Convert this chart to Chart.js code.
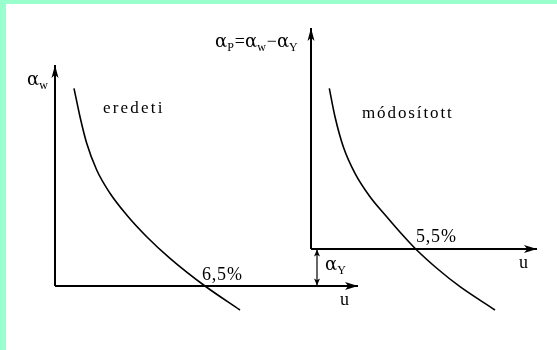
<!DOCTYPE html>
<html>
<head>
<meta charset="utf-8">
<script src="https://cdn.jsdelivr.net/npm/chart.js@4.4.0/dist/chart.umd.min.js"></script>
<style>
  html, body { margin: 0; padding: 0; background: #fff; }
  #wrap { position: absolute; left: 0; top: 0; width: 551px; height: 346px;
          border-left: 6px solid #99ffcc; border-top: 4px solid #99ffcc; background: #fff; }
</style>
</head>
<body>
<div id="wrap"><canvas id="c" width="551" height="346"></canvas></div>
<script>
// diagram units: left origin at (0,0), one unit = 10px
const X_RANGE = [-4.9, 50.2];
const Y_RANGE = [-6.4, 28.2];

// "eredeti" curve (original), crosses u axis at 6,5%
const leftCurve = [[1.9, 19.77], [2.5, 16.93], [3.17, 14.27], [4.17, 11.6], [5.5, 9.27], [7.17, 7.1],
                   [9.17, 4.93], [11.5, 2.77], [15.0, 0], [18.5, -2.4]];
// "módosított" curve (modified), crosses shifted u axis at 5,5%
const rightCurve = [[27.43, 19.77], [28.0, 16.93], [28.83, 13.93], [30.0, 11.27], [31.5, 8.93], [33.17, 6.93],
                    [34.67, 5.2], [36.17, 3.6], [38.33, 1.65], [40.5, -0.07], [44.0, -2.4]];

const leftYAxis = [[0, 0], [0, 22.1]];
const leftXAxis = [[0, 0], [30.3, 0]];
const rightYAxis = [[25.6, 3.7], [25.6, 25.8]];
const rightXAxis = [[25.6, 3.7], [48.2, 3.7]];
const shiftArrow = [[26.2, 0.05], [26.2, 3.65]];

// text: [x, y, segments, fontSize, letterSpacing]  segment: [text, isSubscript]
const labels = [
  [-2.8, 20.1, [['α'], ['w', 1]], 18, 0],
  [4.8, 17.3, [['eredeti']], 17, 2.2],
  [16.0, 23.9, [['α'], ['P', 1], ['='], ['α'], ['w', 1], ['−'], ['α'], ['Y', 1]], 18, 0],
  [30.7, 16.8, [['módosított']], 17, 1.9],
  [14.7, 0.6, [['6,5%']], 18, 0.8],
  [36.1, 4.4, [['5,5%']], 18, 0.8],
  [28.5, -1.9, [['u']], 18, 0],
  [46.4, 1.8, [['u']], 18, 0],
  [27.0, 1.6, [['α'], ['Y', 1]], 18, 0],
];

const pts = (arr) => arr.map(([x, y]) => ({ x, y }));
const line = (arr, width, arrow, size) => ({
  data: pts(arr), borderColor: '#000', borderWidth: width, pointRadius: 0,
  showLine: true, fill: false, tension: 0, arrow, arrowSize: size
});
const curve = (arr) => ({ ...line(arr, 1.6), cubicInterpolationMode: 'monotone' });

const arrowPlugin = {
  id: 'arrowsAndText',
  afterDatasetsDraw(chart) {
    const { ctx } = chart;
    const sx = chart.scales.x, sy = chart.scales.y;
    ctx.save();
    ctx.fillStyle = '#000';
    const head = (tip, from, [L, W]) => {
      const dx = tip.x - from.x, dy = tip.y - from.y, d = Math.hypot(dx, dy);
      const ux = dx / d, uy = dy / d, nx = -uy, ny = ux;
      const bx = tip.x - ux * L, by = tip.y - uy * L;
      ctx.beginPath();
      ctx.moveTo(tip.x, tip.y);
      ctx.lineTo(bx + nx * W, by + ny * W);
      ctx.lineTo(tip.x - ux * L * 0.75, tip.y - uy * L * 0.75);
      ctx.lineTo(bx - nx * W, by - ny * W);
      ctx.closePath();
      ctx.fill();
    };
    chart.data.datasets.forEach((ds, i) => {
      if (!ds.arrow) return;
      const p = chart.getDatasetMeta(i).data;
      head(p[p.length - 1], p[p.length - 2], ds.arrowSize);
      if (ds.arrow === 'both') head(p[0], p[1], ds.arrowSize);
    });

    ctx.textBaseline = 'alphabetic';
    ctx.textAlign = 'left';
    for (const [x, y, segs, size, sp] of labels) {
      let px = sx.getPixelForValue(x);
      const py = sy.getPixelForValue(y);
      for (const [t, sub] of segs) {
        const fs = sub ? 12 : size;
        const fam = t === 'α' ? '"DejaVu Serif", serif' : '"Liberation Serif", "Times New Roman", serif';
        ctx.font = `${fs}px ${fam}`;
        ctx.letterSpacing = sp + 'px';
        ctx.fillText(t, px, py + (sub ? 4 : 0));
        px += ctx.measureText(t).width + (sub ? 1 : 0);
      }
    }
    ctx.restore();
  }
};

new Chart(document.getElementById('c'), {
  type: 'scatter',
  data: {
    datasets: [
      curve(leftCurve),
      curve(rightCurve),
      line(leftYAxis, 2, 'end', [13, 3.5]),
      line(leftXAxis, 2, 'end', [13, 4]),
      line(rightYAxis, 2, 'end', [13, 3.5]),
      line(rightXAxis, 2, 'end', [13, 4]),
      line(shiftArrow, 1.2, 'both', [7, 3]),
    ]
  },
  options: {
    responsive: false,
    animation: false,
    layout: { padding: 0 },
    plugins: { legend: { display: false }, tooltip: { enabled: false } },
    scales: {
      x: { type: 'linear', display: false, min: X_RANGE[0], max: X_RANGE[1] },
      y: { type: 'linear', display: false, min: Y_RANGE[0], max: Y_RANGE[1] }
    }
  },
  plugins: [arrowPlugin]
});
</script>
</body>
</html>
